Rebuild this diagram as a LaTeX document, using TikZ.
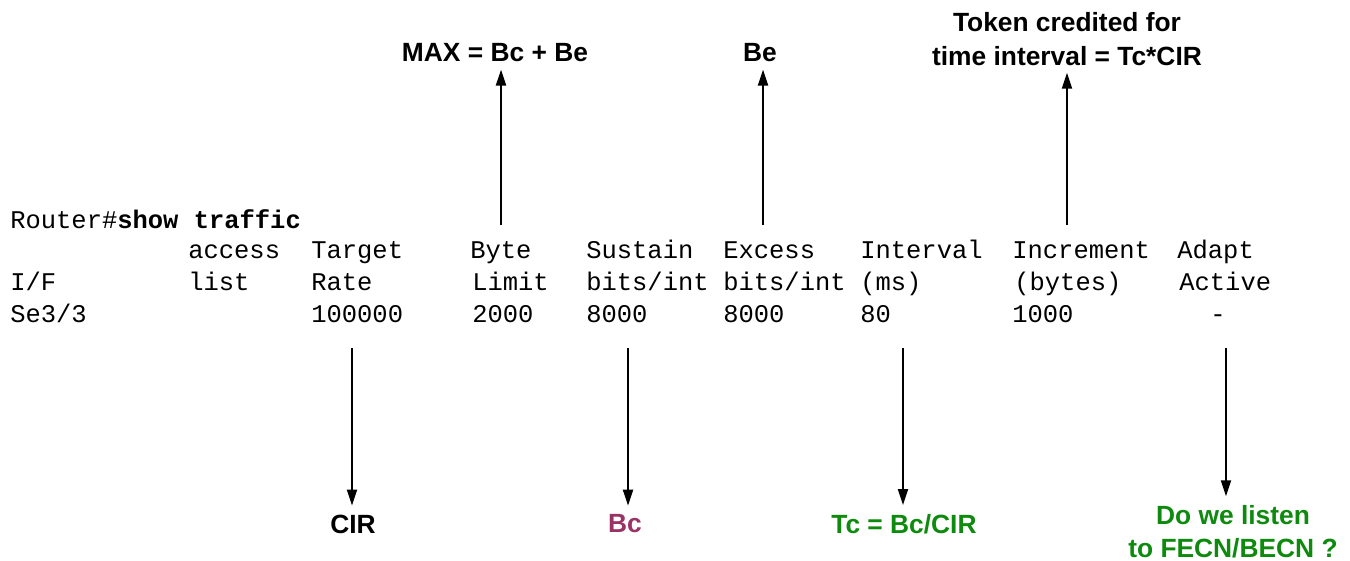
\documentclass[tikz,border=0pt]{standalone}
\usepackage{fontspec}
\usepackage{tikz}
\usetikzlibrary{arrows.meta}
\newfontfamily\cliFont{Liberation Mono}
\newfontfamily\noteFont{Liberation Sans}
\definecolor{bcRed}{HTML}{993366}
\definecolor{noteGreen}{HTML}{0E8A0E}

\begin{document}
\begin{tikzpicture}
        [
            x = 0.02cm, y = -0.02cm,
            cli/.style = {anchor = base west, inner sep = 0pt, font = \cliFont\fontsize{14.5}{17}\selectfont},
            note/.style = {inner sep = 0pt, align = center, font = \noteFont\bfseries\fontsize{15}{19}\selectfont},
            ptr/.style = {line width = 1.1pt, -{Triangle[width = 0.2cm, length = 0.32cm]}}
        ]
        \useasboundingbox (0,0) rectangle (1350,561);

        \node[cli] (prompt) at (10,228) {Router\#\textbf{show traffic}};

        \node[cli] (hAccess)  at (188,258) {access};
        \node[cli] (hTarget)  at (311,258) {Target};
        \node[cli] (hByte)    at (470,258) {Byte};
        \node[cli] (hSustain) at (586,258) {Sustain};
        \node[cli] (hExcess)  at (723,258) {Excess};
        \node[cli] (hIntv)    at (860,258) {Interval};
        \node[cli] (hIncr)    at (1012,258) {Increment};
        \node[cli] (hAdapt)   at (1177,258) {Adapt};

        \node[cli] (hIf)      at (10,290) {I/F};
        \node[cli] (hList)    at (188,290) {list};
        \node[cli] (hRate)    at (311,290) {Rate};
        \node[cli] (hLimit)   at (472,290) {Limit};
        \node[cli] (hSusBits) at (586,290) {bits/int};
        \node[cli] (hExcBits) at (723,290) {bits/int};
        \node[cli] (hMs)      at (860,290) {(ms)};
        \node[cli] (hBytes)   at (1014,290) {(bytes)};
        \node[cli] (hActive)  at (1179,290) {Active};

        \node[cli] (vIf)      at (10,322) {Se3/3};
        \node[cli] (vRate)    at (311,322) {100000};
        \node[cli] (vLimit)   at (472,322) {2000};
        \node[cli] (vSustain) at (586,322) {8000};
        \node[cli] (vExcess)  at (723,322) {8000};
        \node[cli] (vIntv)    at (860,322) {80};
        \node[cli] (vIncr)    at (1012,322) {1000};
        \node[cli] (vAdapt)   at (1210,322) {-};

        \node[note] (maxNote)   at (495,53) {MAX = Bc + Be};
        \node[note] (beNote)    at (760,53) {Be};
        \node[note] (tokenNote) at (1067,39) {Token credited for\\time interval = Tc*CIR};

        \node[note] (cirNote)   at (353,524) {CIR};
        \node[note, text = bcRed] (bcNote) at (625,524) {Bc};
        \node[note, text = noteGreen] (tcNote) at (904,524) {Tc = Bc/CIR};
        \node[note, text = noteGreen] (fecnNote) at (1233,532) {Do we listen\\to FECN/BECN ?};

        \coordinate (limitTail) at (501,225);
        \coordinate (excessTail) at (763,225);
        \coordinate (incrTail) at (1067,225);
        \coordinate (rateTail) at (352,348);
        \coordinate (sustainTail) at (628,348);
        \coordinate (intvTail) at (903,348);
        \coordinate (adaptTail) at (1226,348);

        \draw[ptr, shorten > = 4pt] (limitTail) -- (limitTail |- maxNote.south);
        \draw[ptr, shorten > = 4pt] (excessTail) -- (excessTail |- beNote.south);
        \draw[ptr, shorten > = 4pt] (incrTail) -- (incrTail |- tokenNote.south);
        \draw[ptr, shorten > = 5pt] (rateTail) -- (rateTail |- cirNote.north);
        \draw[ptr, shorten > = 5pt] (sustainTail) -- (sustainTail |- bcNote.north);
        \draw[ptr, shorten > = 5pt] (intvTail) -- (intvTail |- tcNote.north);
        \draw[ptr, shorten > = 5pt] (adaptTail) -- (adaptTail |- fecnNote.north);
\end{tikzpicture}
\end{document}
